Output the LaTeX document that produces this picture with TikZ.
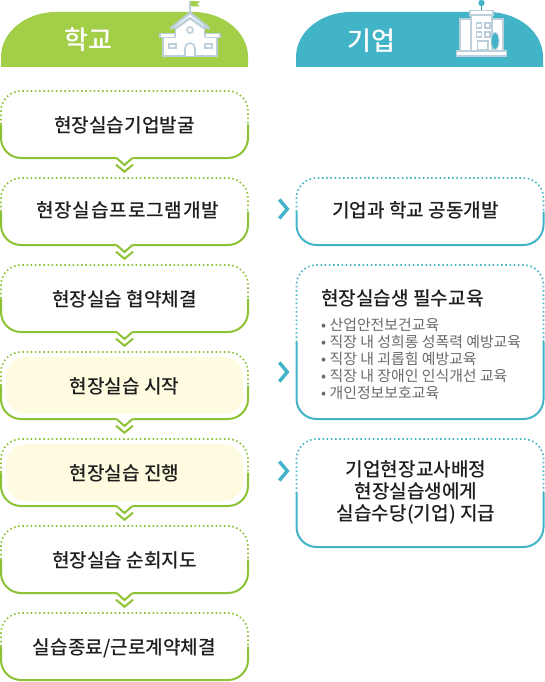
\documentclass[tikz,border=0pt]{standalone}
\usepackage{fontspec}
\setmainfont{Noto Sans CJK KR}
\newfontfamily\medfont{Noto Sans CJK KR Medium}
\usetikzlibrary{arrows.meta,calc}
\definecolor{Ink}{HTML}{1E1E1E}
\definecolor{Muted}{HTML}{6A6A6A}
\definecolor{Lime}{HTML}{A3CE47}
\definecolor{LimeLine}{HTML}{8CC234}
\definecolor{Teal}{HTML}{42B4C8}
\definecolor{Cream}{HTML}{FFFBE0}
\definecolor{IconLine}{HTML}{BCD0DC}
\tikzset{
  stepbox/.style={minimum width=247pt,minimum height=67pt,inner sep=0pt,outer sep=0pt,text=Ink,text height=16pt,text depth=0pt,font=\medfont\fontsize{19.1}{22}\selectfont},
  steptext/.style={inner sep=0pt,text=Ink,align=center,font=\medfont\fontsize{19.1}{22}\selectfont},
  hdrbox/.style={minimum width=247pt,minimum height=55pt,inner sep=0pt,outer sep=0pt},
  hdrtext/.style={text=white,font=\medfont\fontsize{26}{28}\selectfont},
  creambox/.style={fill=Cream,rounded corners=20pt,minimum width=237pt,minimum height=57pt,inner sep=0pt},
  dotline/.style={line width=1.7pt,dash pattern=on 1.5pt off 2.7pt},
  fullline/.style={line width=2pt},
  flowline/.style={white,shorten >=5pt,-{Straight Barb[color=LimeLine,length=7pt,width=17pt,line width=2pt]}},
  sideline/.style={white,shorten >=7pt,-{Straight Barb[color=Teal,length=8pt,width=19pt,line width=3.4pt]}},
  iconline/.style={IconLine,fill=white,line width=1.6pt}
}
\begin{document}
\begin{tikzpicture}[x=1pt,y=-1pt]
\useasboundingbox (0,0) rectangle (544,682);
\node[hdrbox] (school) at (124.5,39.5) {};
\node[hdrbox] (company) at (419.5,39.5) {};
\fill[Lime] (school.south west) -- ++(0,-10) arc (180:270:55 and 45) -- ++(137,0) arc (270:360:55 and 45) -- (school.south east) -- cycle;
\fill[Teal] (company.south west) -- ++(0,-10) arc (180:270:55 and 45) -- ++(137,0) arc (270:360:55 and 45) -- (company.south east) -- cycle;
\node[hdrtext] (schoollabel) at (88,40) {학교};
\node[hdrtext] (companylabel) at (371,41) {기업};

\draw[IconLine,line width=1.6pt] (190,12) -- (190,1);
\fill[Lime] (190.5,1) -- (200,1.5) -- (197,4) -- (200,6.5) -- (190.5,6.5) -- cycle;
\draw[iconline] (163,36) rectangle (217,56);
\draw[iconline] (160,33.5) rectangle (175,37.5);
\draw[iconline] (205,33.5) rectangle (220,37.5);
\fill[white] (175.5,40) -- (175.5,24) -- (190,14) -- (204.5,24) -- (204.5,40) -- cycle;
\draw[IconLine,line width=1.6pt] (175.5,36) -- (175.5,25) (204.5,25) -- (204.5,36);
\draw[IconLine,fill=white,line width=2.4pt,line join=round] (171,28) -- (190,13) -- (209,28) -- (204,28) -- (190,18) -- (176,28) -- cycle;
\draw[IconLine,line width=1.6pt] (190,30) circle (3);
\draw[iconline] (185,56) -- (185,48) arc (180:360:5) -- (195,56);
\draw[IconLine,line width=1.4pt] (169,44) rectangle (176,48) (205,44) rectangle (212,48);

\draw[Teal!80!black,line width=1.2pt] (481.5,3) -- (481.5,10);
\fill[Teal] (481.5,3) circle (3.2);
\draw[iconline] (460,19) rectangle (503,51);
\draw[iconline] (471,15) rectangle (492,51);
\draw[iconline] (470,10.5) rectangle (493,15);
\foreach \wx in {476.5,485} \foreach \wy in {23,32}
  \draw[IconLine,line width=1.3pt] (\wx,\wy) rectangle +(5,5);
\draw[IconLine,line width=1.4pt] (477.5,50) rectangle (488,41);
\draw[IconLine,line width=1pt,fill=Teal] (495,41) ellipse (4 and 8.5);
\draw[iconline] (456.5,51) rectangle (506.5,56);

\node[creambox] (startfill) at (124.5,385.5) {};
\node[creambox] (runfill) at (124.5,472.5) {};

\node[stepbox] (find) at (124.5,124.5) {현장실습기업발굴};
\node[stepbox] (prog) at (124.5,211.5) {};
\node[stepbox] (deal) at (124.5,298.5) {현장실습 협약체결};
\node[stepbox] (start) at (124.5,385.5) {현장실습 시작};
\node[stepbox] (run) at (124.5,472.5) {현장실습 진행};
\node[stepbox] (visit) at (124.5,559.5) {현장실습 순회지도};
\node[stepbox] (finish) at (124.5,646.5) {실습종료/근로계약체결};
\node[steptext,anchor=west,font=\medfont\fontsize{19.1}{22}\selectfont\addfontfeature{LetterSpace=4.3}] (progtext) at (36,210) {현장실습프로그램개발};

\node[stepbox] (codev) at (420,211.5) {};
\node[stepbox,minimum height=154pt] (edu) at (420,342) {};
\node[stepbox,minimum height=108pt] (assign) at (420,493) {};
\node[steptext] (codevtext) at (415.5,210) {기업과 학교 공동개발};
\node[steptext] (assigntext) at (416,492) {기업현장교사배정\\현장실습생에게\\실습수당(기업) 지급};
\node[steptext,anchor=west] (edutitle) at (321,298) {현장실습생 필수교육};
\node[text=Muted,anchor=north west,inner sep=0pt,align=left,font=\fontsize{14.9}{17}\selectfont] (edulist) at (321,318) {• 산업안전보건교육\\• 직장 내 성희롱 성폭력 예방교육\\• 직장 내 괴롭힘 예방교육\\• 직장 내 장애인 인식개선 교육\\• 개인정보보호교육};

\draw[flowline] (find.south) -- (prog.north);
\draw[flowline] (prog.south) -- (deal.north);
\draw[flowline] (deal.south) -- (start.north);
\draw[flowline] (start.south) -- (run.north);
\draw[flowline] (run.south) -- (visit.north);
\draw[flowline] (visit.south) -- (finish.north);

\foreach \n in {find,prog,deal,start,run,visit,finish}
  \draw[LimeLine,dotline,rounded corners=20pt] (\n.west) |- (\n.north) -| (\n.east);
\foreach \n in {codev,edu,assign}
  \draw[Teal,dotline,rounded corners=20pt] (\n.west) |- (\n.north) -| (\n.east);
\foreach \n in {find,prog,deal,start,run,visit} {
  \draw[LimeLine,fullline,rounded corners=20pt] (\n.west) |- ($(\n.south)+(-8,0)$) ($(\n.south)+(8,0)$) -| (\n.east);
  \draw[LimeLine,fullline] ($(\n.south)+(-8,0)$) -- ($(\n.south)+(0,7)$) -- ($(\n.south)+(8,0)$);
}
\draw[LimeLine,fullline,rounded corners=20pt] (finish.west) |- (finish.south) -| (finish.east);
\foreach \n in {codev,edu,assign}
  \draw[Teal,fullline,rounded corners=20pt] (\n.west) |- (\n.south) -| (\n.east);

\coordinate (sidea) at (0,209);
\coordinate (sideb) at (0,372);
\coordinate (sidec) at (0,471);
\draw[sideline] (prog.east |- sidea) -- (codev.west |- sidea);
\draw[sideline] (start.east |- sideb) -- (edu.west |- sideb);
\draw[sideline] (run.east |- sidec) -- (assign.west |- sidec);
\end{tikzpicture}
\end{document}
